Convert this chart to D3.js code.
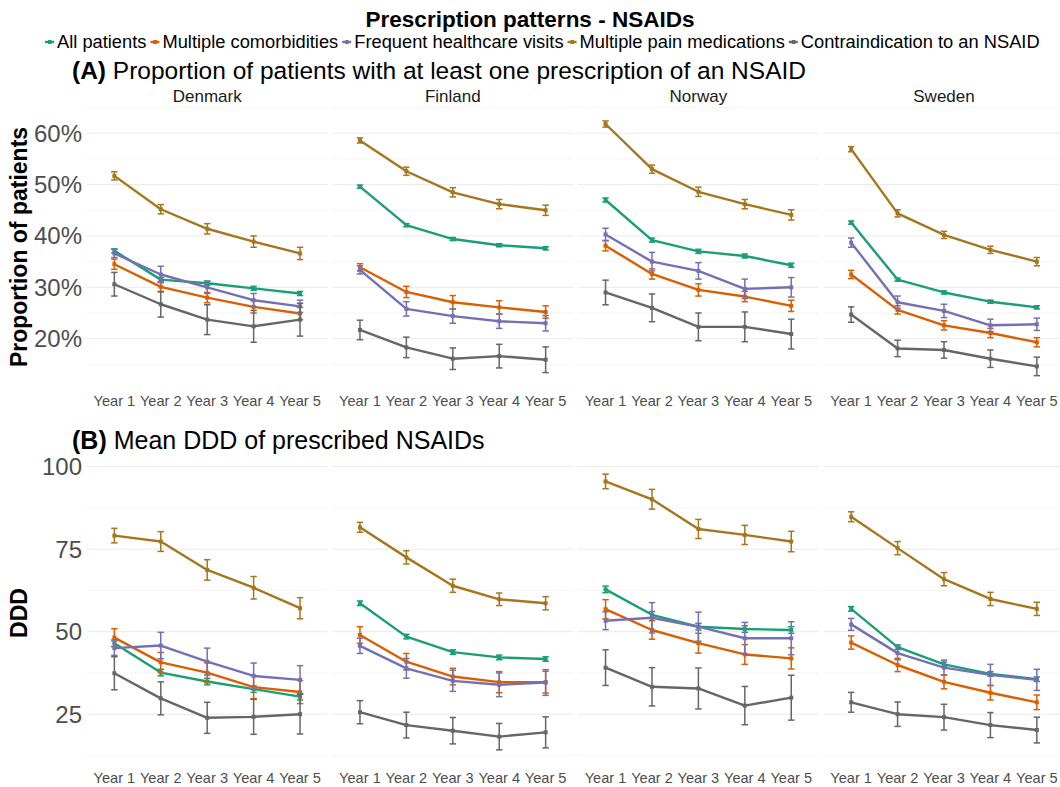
<!DOCTYPE html>
<html>
<head>
<meta charset="utf-8">
<script src="https://cdn.jsdelivr.net/npm/d3@7"></script>
<style>
  body { margin: 0; background: #fff; }
  svg { font-family: "Liberation Sans", Arial, sans-serif; display: block; }
  .grid-major { stroke: #ebebeb; stroke-width: 1; }
  .grid-minor { stroke: #f2f2f2; stroke-width: 0.8; }
  .tick-y { fill: #4d4d4d; font-size: 24px; }
  .tick-x { fill: #4d4d4d; font-size: 14.6px; }
  .strip { fill: #1a1a1a; font-size: 17px; }
  .axis-title { font-weight: bold; font-size: 23px; fill: #000; }
</style>
</head>
<body>
<svg id="chart" width="1060" height="787"></svg>
<script>
// ---- data ----
var years = ["Year 1", "Year 2", "Year 3", "Year 4", "Year 5"];
var countries = ["Denmark", "Finland", "Norway", "Sweden"];
var groups = ["All patients", "Multiple comorbidities", "Frequent healthcare visits",
  "Multiple pain medications", "Contraindication to an NSAID"];

// (A) proportion of patients, % (rows follow groups)
var propDenmark = [[37.1, 31.5, 30.8, 29.8, 28.8], [34.5, 30.1, 28.0, 26.2, 24.9], [36.6, 32.5, 30.0, 27.5, 26.3], [51.7, 45.2, 41.4, 38.9, 36.6], [30.6, 26.7, 23.7, 22.4, 23.7]];
var propDenmarkErr = [[0.4, 0.4, 0.4, 0.4, 0.4], [1.0, 1.0, 1.0, 1.2, 1.2], [0.8, 1.6, 1.2, 1.3, 1.2], [0.8, 0.9, 1.0, 1.1, 1.2], [2.3, 2.5, 2.9, 3.1, 3.2]];
var propFinland = [[49.6, 42.1, 39.4, 38.2, 37.6], [33.9, 29.1, 27.1, 26.1, 25.2], [33.4, 25.8, 24.4, 23.4, 23.0], [58.6, 52.6, 48.5, 46.2, 45.0], [21.7, 18.3, 16.1, 16.6, 15.9]];
var propFinlandErr = [[0.3, 0.3, 0.3, 0.3, 0.3], [0.7, 1.1, 1.3, 1.3, 1.2], [0.8, 1.4, 1.4, 1.4, 1.5], [0.5, 0.8, 0.9, 0.9, 1.0], [1.9, 2.0, 2.1, 2.3, 2.5]];
var propNorway = [[47.0, 39.2, 37.0, 36.1, 34.3], [38.1, 32.6, 29.5, 28.2, 26.4], [40.3, 35.0, 33.2, 29.7, 30.0], [61.8, 53.0, 48.6, 46.2, 44.1], [29.0, 26.0, 22.3, 22.3, 20.9]];
var propNorwayErr = [[0.4, 0.4, 0.4, 0.4, 0.4], [1.0, 1.0, 1.2, 1.0, 1.1], [1.2, 1.8, 1.6, 1.9, 1.9], [0.6, 0.8, 0.9, 0.9, 1.0], [2.4, 2.7, 2.7, 2.9, 2.9]];
var propSweden = [[42.6, 31.5, 29.0, 27.2, 26.1], [32.5, 25.6, 22.6, 21.1, 19.3], [38.7, 27.1, 25.4, 22.6, 22.8], [56.9, 44.4, 40.2, 37.3, 35.0], [24.7, 18.1, 17.8, 16.1, 14.6]];
var propSwedenErr = [[0.3, 0.3, 0.3, 0.3, 0.3], [0.8, 0.8, 0.9, 0.9, 0.9], [0.9, 1.2, 1.3, 1.2, 1.2], [0.5, 0.7, 0.7, 0.7, 0.8], [1.5, 1.6, 1.6, 1.7, 1.8]];

// (B) mean DDD
var dddDenmark = [[46.5, 37.6, 34.9, 32.6, 30.3], [48.2, 40.7, 37.6, 33.2, 31.7], [45.0, 45.8, 40.9, 36.6, 35.4], [79.1, 77.3, 68.7, 63.3, 57.1], [37.4, 29.8, 23.9, 24.2, 25.0]];
var dddDenmarkErr = [[1.0, 1.0, 1.0, 1.0, 1.0], [2.7, 3.0, 3.0, 3.5, 3.5], [2.2, 4.0, 4.1, 3.9, 4.3], [2.2, 3.0, 3.1, 3.4, 3.2], [5.0, 5.0, 4.7, 5.3, 6.0]];
var dddFinland = [[58.6, 48.5, 43.8, 42.2, 41.7], [49.0, 40.9, 36.4, 34.7, 34.7], [45.7, 38.9, 35.1, 33.9, 34.6], [81.6, 72.5, 63.9, 59.8, 58.6], [25.6, 21.7, 20.0, 18.2, 19.5]];
var dddFinlandErr = [[0.7, 0.7, 0.7, 0.7, 0.7], [2.5, 2.5, 2.5, 3.2, 3.3], [2.3, 3.0, 3.2, 3.6, 3.9], [1.5, 2.0, 2.0, 1.9, 2.0], [3.5, 3.9, 4.0, 4.0, 4.7]];
var dddNorway = [[62.8, 55.1, 51.5, 50.8, 50.5], [56.8, 50.5, 46.5, 43.1, 41.9], [53.3, 54.2, 51.5, 48.0, 48.0], [95.5, 90.1, 81.1, 79.3, 77.3], [39.1, 33.3, 32.8, 27.6, 30.0]];
var dddNorwayErr = [[1.0, 1.0, 1.0, 1.0, 1.0], [2.9, 2.8, 3.0, 3.0, 3.2], [2.7, 4.6, 4.4, 4.8, 5.0], [2.2, 3.0, 2.9, 2.9, 3.1], [5.4, 5.8, 6.2, 5.8, 6.8]];
var dddSweden = [[56.9, 45.3, 40.1, 37.2, 35.6], [46.7, 39.9, 34.8, 31.5, 28.6], [52.2, 43.5, 39.1, 36.9, 35.4], [84.8, 75.3, 65.9, 59.9, 56.9], [28.6, 25.0, 24.1, 21.7, 20.2]];
var dddSwedenErr = [[0.7, 0.7, 0.7, 0.7, 0.7], [2.0, 2.0, 2.1, 2.2, 2.2], [1.8, 2.0, 2.3, 3.2, 3.2], [1.5, 2.0, 2.0, 2.0, 2.0], [3.0, 3.7, 3.9, 3.8, 3.9]];

var propTicks = [20, 30, 40, 50, 60];
var propMinor = [15, 25, 35, 45, 55, 65];
var dddTicks = [25, 50, 75, 100];
var dddMinor = [12.5, 37.5, 62.5, 87.5];

// ---- layout ----
var Config = {
  PanelLeft: 86.5,
  PanelStep: 245.6,
  PanelWidth: 241.4,
  ATop: 105, ABottom: 389,
  BTop: 458, BBottom: 768,
  LineWidth: 2.4,
  ErrWidth: 1.5,
  CapHalf: 3.2,
};
var colors = ["#1B9E77", "#D95F02", "#7570B3", "#A6761D", "#666666"];

var svg = d3.select("#chart");

// titles
svg.append("text")
  .attr("x", 530).attr("y", 27)
  .attr("text-anchor", "middle")
  .style("font-weight", "bold").style("font-size", "22.5px")
  .text("Prescription patterns - NSAIDs");

// legend
var lx = 45;
groups.forEach(function (g, i) {
  svg.append("line")
    .attr("x1", lx).attr("x2", lx + 9).attr("y1", 42).attr("y2", 42)
    .attr("stroke", colors[i]).attr("stroke-width", 2.4);
  svg.append("rect")
    .attr("x", lx + 3).attr("y", 40).attr("width", 3.5).attr("height", 4)
    .attr("fill", colors[i]);
  var t = svg.append("text")
    .attr("x", lx + 12).attr("y", 48)
    .style("font-size", "18.3px")
    .text(g);
  lx = lx + 12 + t.node().getComputedTextLength() + 4;
});

function panelTitle(y, tag, rest, size) {
  var t = svg.append("text").attr("x", 72).attr("y", y).style("font-size", size + "px");
  t.append("tspan").style("font-weight", "bold").text(tag);
  t.append("tspan").text(" " + rest);
}
panelTitle(79, "(A)", "Proportion of patients with at least one prescription of an NSAID", 24.5);
panelTitle(449, "(B)", "Mean DDD of prescribed NSAIDs", 25);

function drawBlock(top, bottom, domain, majors, minors, fmt, series, errs, strips, axisTitle, titleY, labelY) {
  var y = d3.scaleLinear().domain(domain).range([bottom, top]);

  // y tick labels
  svg.selectAll(null).data(majors).enter().append("text")
    .attr("class", "tick-y")
    .attr("x", 82).attr("y", function (d) { return y(d); })
    .attr("dy", "0.35em")
    .attr("text-anchor", "end")
    .text(fmt);

  svg.append("text")
    .attr("class", "axis-title")
    .attr("transform", "translate(26.5," + titleY + ") rotate(-90)")
    .attr("text-anchor", "middle")
    .text(axisTitle);

  countries.forEach(function (c, k) {
    var left = Config.PanelLeft + k * Config.PanelStep;
    var x = d3.scalePoint().domain(years).range([left, left + Config.PanelWidth]).padding(0.6);
    var g = svg.append("g");

    g.selectAll(null).data(minors).enter().append("line")
      .attr("class", "grid-minor")
      .attr("x1", left).attr("x2", left + Config.PanelWidth)
      .attr("y1", function (d) { return y(d); }).attr("y2", function (d) { return y(d); });
    g.selectAll(null).data(majors).enter().append("line")
      .attr("class", "grid-major")
      .attr("x1", left).attr("x2", left + Config.PanelWidth)
      .attr("y1", function (d) { return y(d); }).attr("y2", function (d) { return y(d); });

    if (strips) {
      g.append("text")
        .attr("class", "strip")
        .attr("x", left + Config.PanelWidth / 2).attr("y", 102)
        .attr("text-anchor", "middle")
        .text(c);
    }

    g.selectAll(null).data(years).enter().append("text")
      .attr("class", "tick-x")
      .attr("x", function (d) { return x(d); }).attr("y", labelY)
      .attr("text-anchor", "middle")
      .text(function (d) { return d; });

    var vals = series[k], errv = errs[k];
    var line = d3.line()
      .x(function (d, j) { return x(years[j]); })
      .y(function (d) { return y(d); });

    vals.forEach(function (row, gi) {
      var col = colors[gi];
      var er = g.append("g").attr("stroke", col).attr("stroke-width", Config.ErrWidth);
      row.forEach(function (v, j) {
        var cx = x(years[j]), lo = y(v - errv[gi][j]), hi = y(v + errv[gi][j]);
        er.append("line").attr("x1", cx).attr("x2", cx).attr("y1", lo).attr("y2", hi);
        er.append("line").attr("x1", cx - Config.CapHalf).attr("x2", cx + Config.CapHalf).attr("y1", lo).attr("y2", lo);
        er.append("line").attr("x1", cx - Config.CapHalf).attr("x2", cx + Config.CapHalf).attr("y1", hi).attr("y2", hi);
      });
      g.append("path")
        .attr("d", line(row))
        .attr("fill", "none")
        .attr("stroke", col)
        .attr("stroke-width", Config.LineWidth)
        .attr("stroke-linejoin", "round");
      g.selectAll(null).data(row).enter().append("rect")
        .attr("x", function (d, j) { return x(years[j]) - 2; })
        .attr("y", function (d) { return y(d) - 2; })
        .attr("width", 4).attr("height", 4)
        .attr("fill", col);
    });
  });
}

drawBlock(Config.ATop, Config.ABottom, [10.2, 65.5], propTicks, propMinor,
  function (d) { return d + "%"; },
  [propDenmark, propFinland, propNorway, propSweden],
  [propDenmarkErr, propFinlandErr, propNorwayErr, propSwedenErr],
  true, "Proportion of patients", 247, 406);

drawBlock(Config.BTop, Config.BBottom, [8.7, 102.6], dddTicks, dddMinor,
  function (d) { return d; },
  [dddDenmark, dddFinland, dddNorway, dddSweden],
  [dddDenmarkErr, dddFinlandErr, dddNorwayErr, dddSwedenErr],
  false, "DDD", 613, 782.5);
</script>
</body>
</html>
